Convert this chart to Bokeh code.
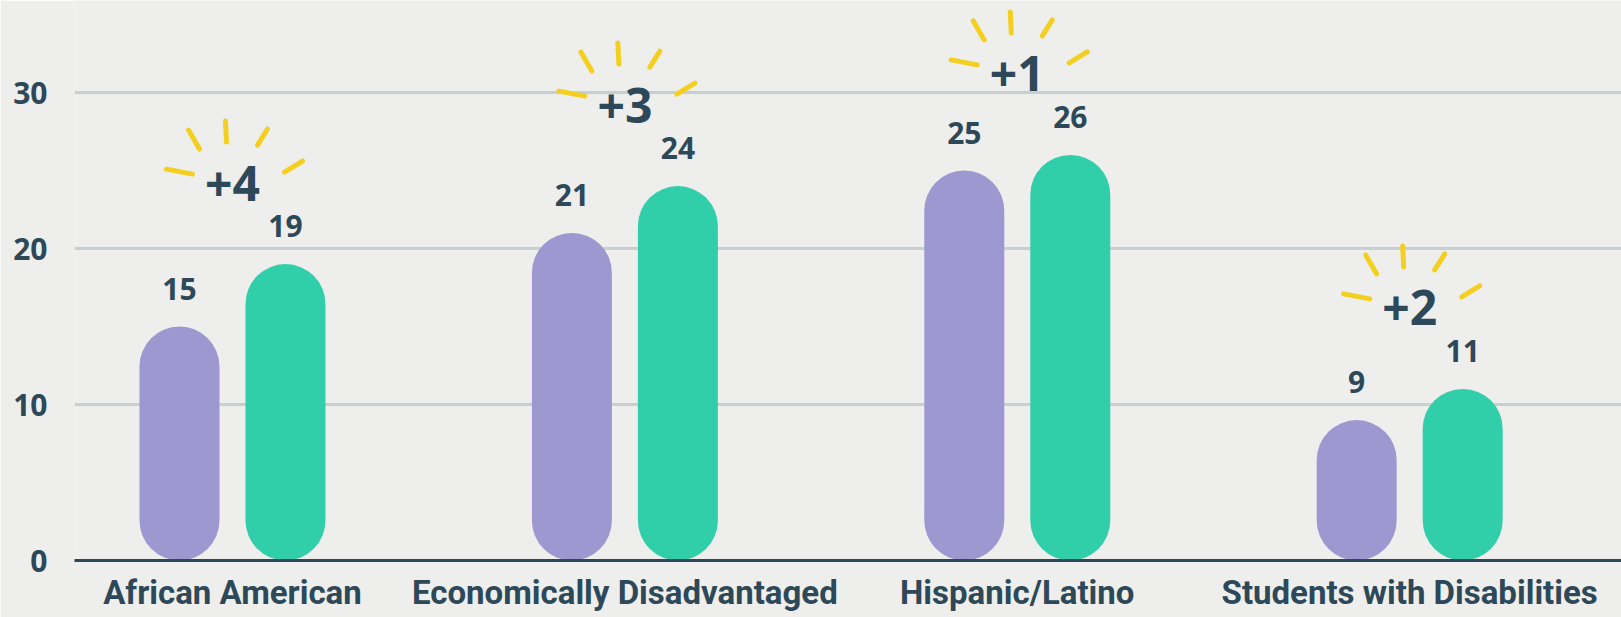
import numpy as np
from bokeh.plotting import figure
from bokeh.models import FixedTicker, Range1d
from bokeh.core.properties import value
from bokeh.embed import file_html
from bokeh.resources import INLINE

# ---------------- data ----------------
categories = ["African American", "Economically Disadvantaged",
              "Hispanic/Latino", "Students with Disabilities"]
before = [15, 21, 25, 9]
after = [19, 24, 26, 11]
y_ticks = [0, 10, 20, 30]

# ---------------- style / layout ----------------
BG = "#eeeeec"
INK = "#2d4858"
PURPLE = "#9d98cf"
TEAL = "#31cfa9"
YELLOW = "#f3cf1f"
GRID = "#c8cfd2"

BORDER_L, BORDER_B = 74, 57
FRAME_W, FRAME_H = 1547, 560
PX_PER_X = 392.4
X_START = -0.4026
X_END = X_START + FRAME_W / PX_PER_X
PX_PER_Y = 15.6
Y_END = FRAME_H / PX_PER_Y
px_x = 1.0 / PX_PER_X
px_y = 1.0 / PX_PER_Y

BAR_W_PX = 80
DODGE_PX = 53
LABEL_OFF_PX = 38
DELTA_OFF_PX = 81
# sunburst rays, offsets (px, screen y down) relative to the delta text centre
RAYS = [(-66, -14, -40, -9), (-44, -53, -33, -34), (-7, -62, -6, -41),
        (35, -54, 25, -38), (70, -22, 52, -11)]

idx = np.arange(len(categories))
x_before = idx - DODGE_PX * px_x
x_after = idx + DODGE_PX * px_x
tops = np.maximum(before, after)
diffs = np.array(after) - np.array(before)

p = figure(frame_width=FRAME_W, frame_height=FRAME_H,
           x_range=Range1d(X_START, X_END), y_range=Range1d(0, Y_END),
           output_backend="svg", toolbar_location=None,
           min_border_left=BORDER_L, min_border_right=0, min_border_top=0,
           min_border_bottom=BORDER_B)
p.background_fill_color = BG
p.border_fill_color = BG
p.outline_line_color = None

# grid
p.xgrid.grid_line_color = None
p.ygrid.ticker = FixedTicker(ticks=y_ticks[1:])
p.ygrid.grid_line_color = GRID
p.ygrid.grid_line_width = 3

# bars (pills)
p.vbar(x=x_before, bottom=0, top=before, width=BAR_W_PX * px_x,
       fill_color=PURPLE, line_color=None, border_radius=BAR_W_PX // 2)
p.vbar(x=x_after, bottom=0, top=after, width=BAR_W_PX * px_x,
       fill_color=TEAL, line_color=None, border_radius=BAR_W_PX // 2)

# value labels
lab_kw = dict(text_align="center", text_baseline="middle", text_color=INK,
              text_font=value("Open Sans"), text_font_style="bold",
              text_font_size="30px", y_offset=-LABEL_OFF_PX)
p.text(x=x_before, y=before, text=[str(v) for v in before], **lab_kw)
p.text(x=x_after, y=after, text=[str(v) for v in after], **lab_kw)

# rays
for (ax0, ay0, ax1, ay1) in RAYS:
    p.segment(x0=idx + ax0 * px_x, y0=tops + (DELTA_OFF_PX - ay0) * px_y,
              x1=idx + ax1 * px_x, y1=tops + (DELTA_OFF_PX - ay1) * px_y,
              line_color=YELLOW, line_width=5, line_cap="round")

# delta labels
p.text(x=idx, y=tops, text=["+%d" % d for d in diffs],
       text_align="center", text_baseline="middle", text_color=INK,
       text_font=value("Open Sans"), text_font_style="bold",
       text_font_size="48px", y_offset=-DELTA_OFF_PX)

# axes
p.yaxis.ticker = FixedTicker(ticks=y_ticks)
p.yaxis.axis_line_color = None
p.yaxis.major_tick_line_color = None
p.yaxis.minor_tick_line_color = None
p.yaxis.major_label_standoff = 21
p.yaxis.major_label_text_font = "Open Sans"
p.yaxis.major_label_text_font_style = "bold"
p.yaxis.major_label_text_font_size = "30px"
p.yaxis.major_label_text_color = INK

p.xaxis.ticker = FixedTicker(ticks=list(idx))
p.xaxis.major_label_overrides = {int(i): c for i, c in zip(idx, categories)}
p.xaxis.axis_line_color = INK
p.xaxis.axis_line_width = 3
p.xaxis.major_tick_line_color = None
p.xaxis.minor_tick_line_color = None
p.xaxis.major_label_standoff = 6
p.xaxis.major_label_text_font = "Roboto"
p.xaxis.major_label_text_font_style = "bold"
p.xaxis.major_label_text_font_size = "33px"
p.xaxis.major_label_text_color = INK

open("out.html", "w").write(file_html(p, INLINE))
